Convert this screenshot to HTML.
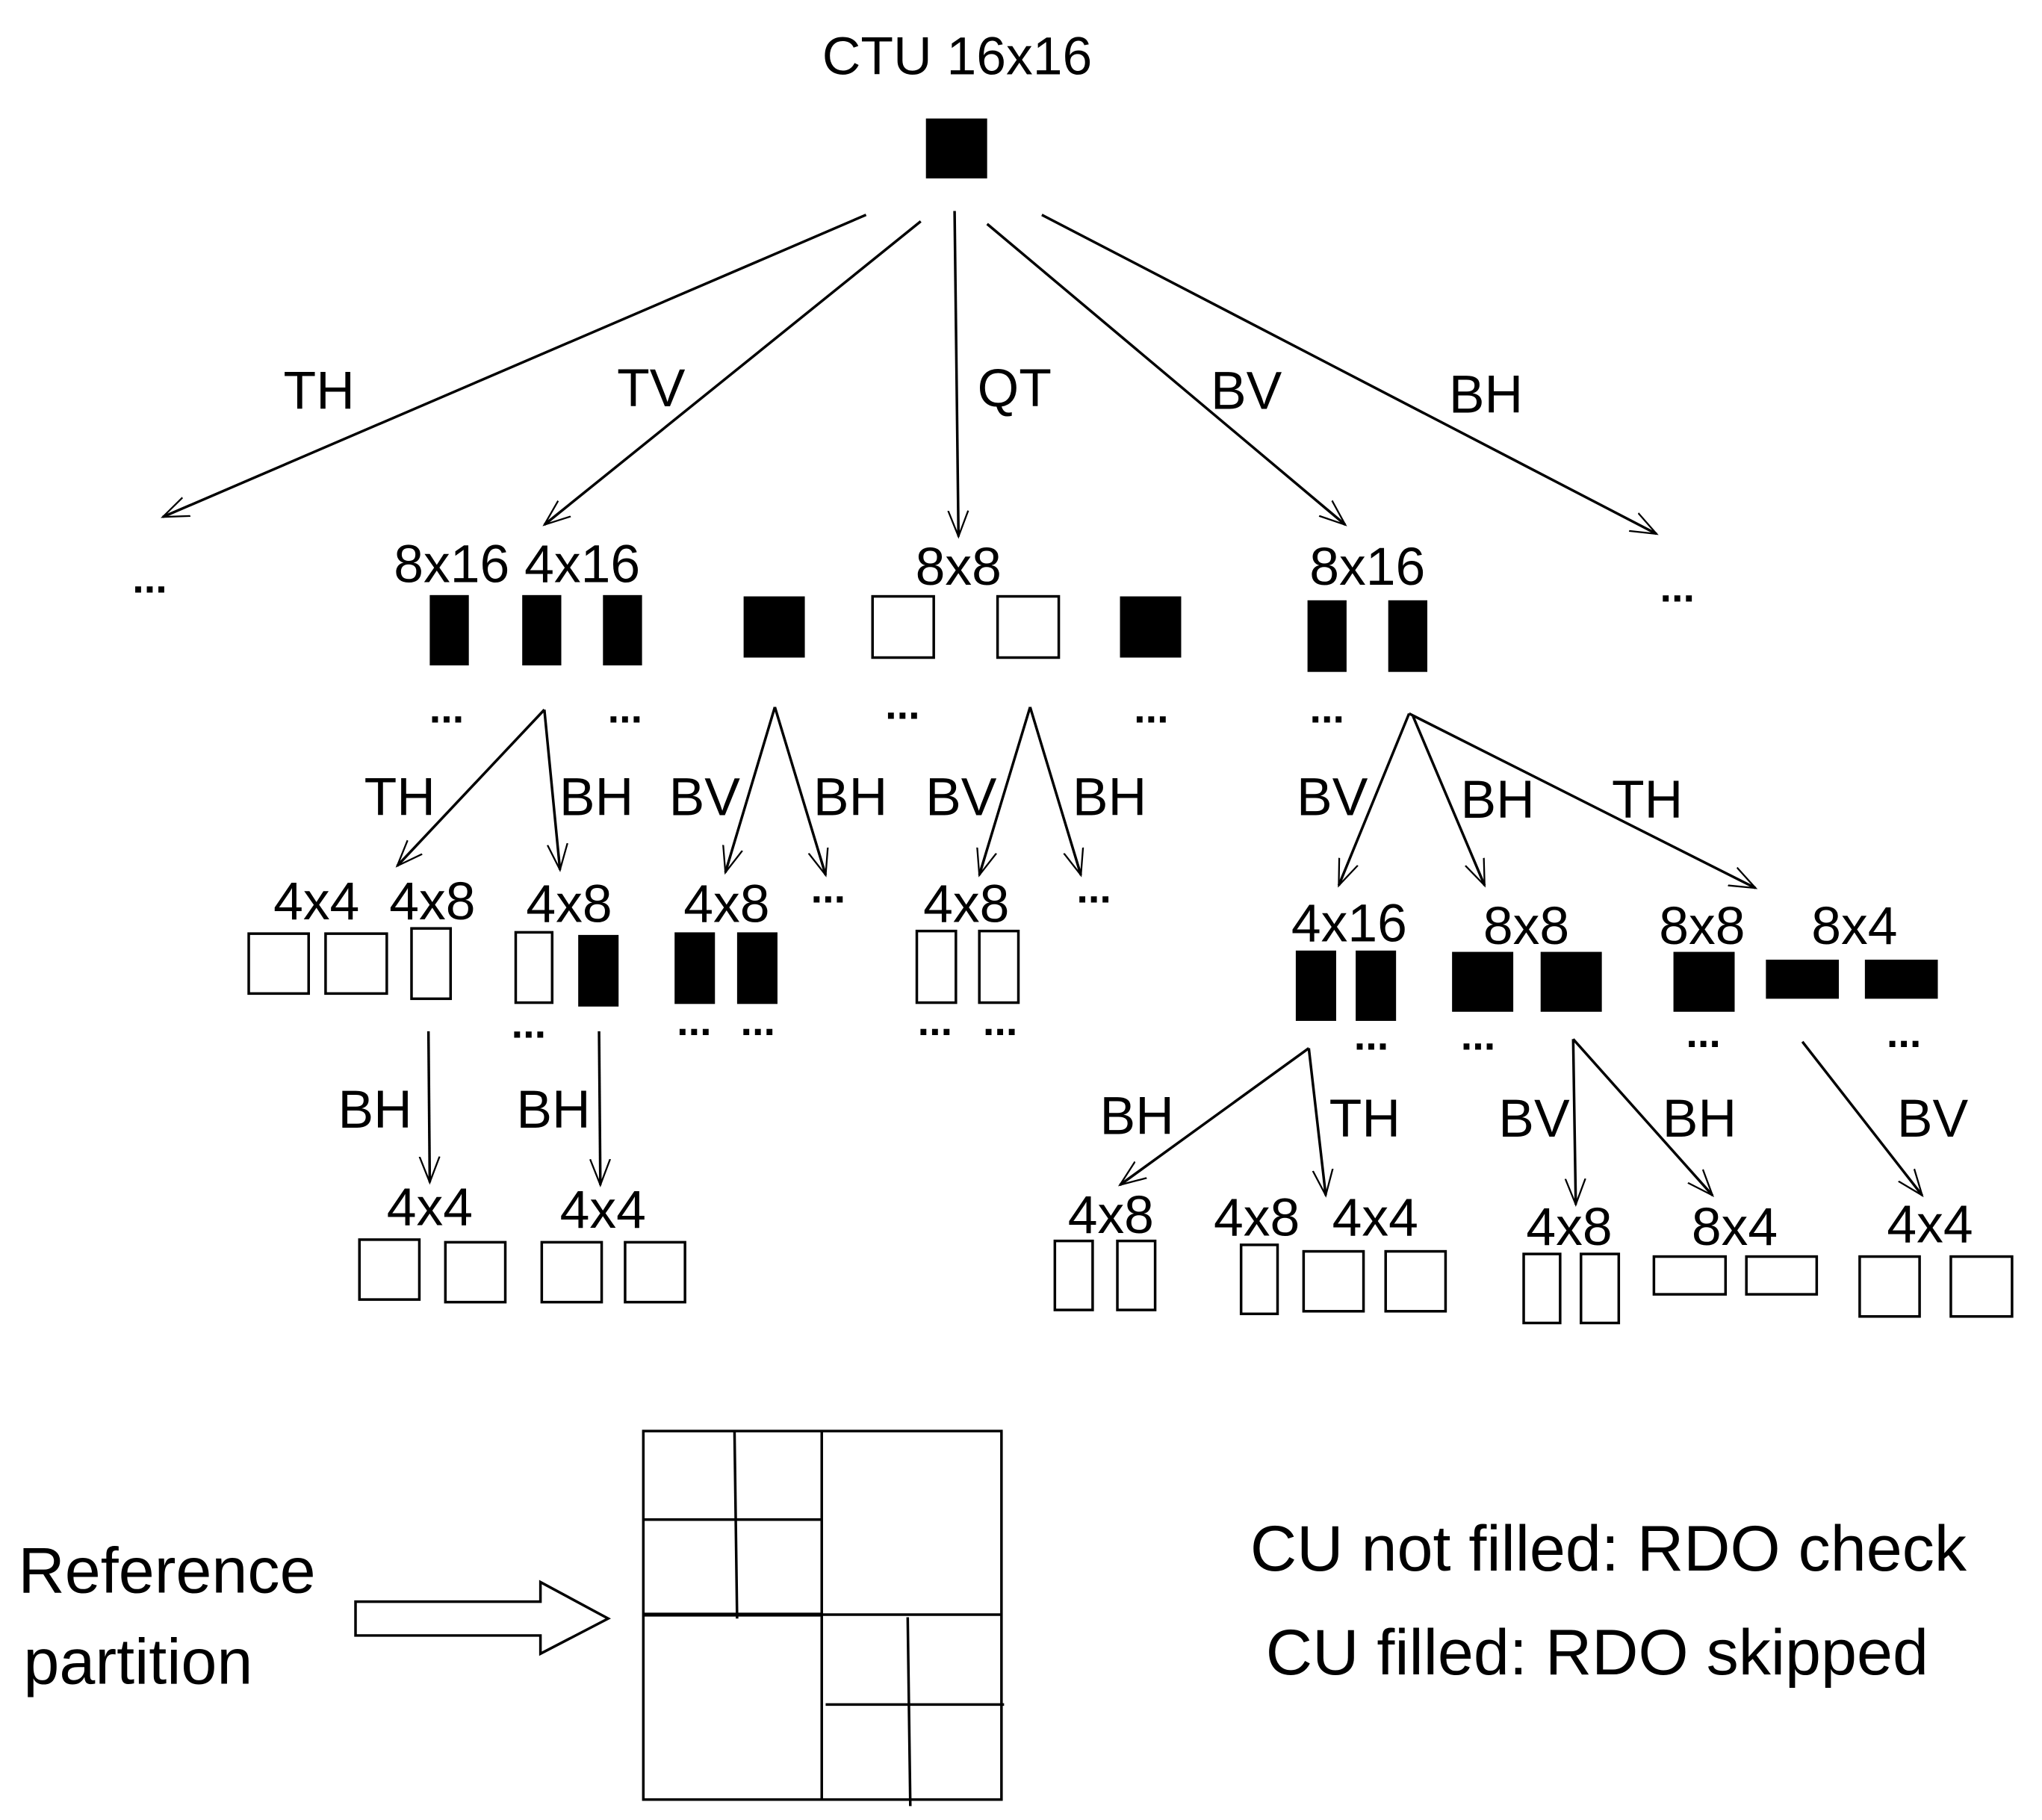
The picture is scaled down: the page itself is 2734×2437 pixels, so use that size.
<!DOCTYPE html>
<html><head><meta charset="utf-8"><style>
html,body{margin:0;padding:0;background:#fff;width:2734px;height:2437px;overflow:hidden}
svg{display:block}
text{font-family:"Liberation Sans",sans-serif;fill:#000}
</style></head><body>
<svg width="2734" height="2437" viewBox="0 0 1568 1397.7" preserveAspectRatio="none" xmlns="http://www.w3.org/2000/svg">
<defs>
<marker id="b" viewBox="0 0 20 20" refX="18" refY="10" markerWidth="22" markerHeight="22" markerUnits="userSpaceOnUse" orient="auto">
<polyline points="0,3 18,10 0,17" fill="none" stroke="#000" stroke-width="1.2"/>
</marker>
</defs>
<g stroke="#000" stroke-width="2" fill="none" marker-end="url(#b)">
<line x1="665" y1="165" x2="125" y2="397"/>
<line x1="707" y1="170" x2="418" y2="403"/>
<line x1="733" y1="162" x2="736" y2="412"/>
<line x1="758" y1="172" x2="1033" y2="403"/>
<line x1="800" y1="165" x2="1272" y2="410"/>
<line x1="418" y1="545" x2="305" y2="665"/>
<line x1="418" y1="545" x2="430" y2="668"/>
<line x1="595" y1="543" x2="557" y2="670"/>
<line x1="595" y1="543" x2="634" y2="672"/>
<line x1="791" y1="543" x2="752" y2="672"/>
<line x1="791" y1="543" x2="830" y2="672"/>
<line x1="1082" y1="548" x2="1028" y2="680"/>
<line x1="1085" y1="550" x2="1140" y2="680"/>
<line x1="1082" y1="548" x2="1348" y2="682"/>
<line x1="329" y1="792" x2="330" y2="908"/>
<line x1="460" y1="792" x2="461" y2="910"/>
<line x1="1005" y1="805" x2="860" y2="910"/>
<line x1="1005" y1="805" x2="1018" y2="918"/>
<line x1="1208" y1="798" x2="1210" y2="925"/>
<line x1="1208" y1="798" x2="1315" y2="918"/>
<line x1="1384" y1="800" x2="1476" y2="918"/>
</g>
<g font-size="41">
<text x="735" y="57" text-anchor="middle">CTU 16x16</text>
<text x="245" y="314" text-anchor="middle">TH</text>
<text x="500" y="312" text-anchor="middle">TV</text>
<text x="779" y="312" text-anchor="middle">QT</text>
<text x="957" y="314" text-anchor="middle">BV</text>
<text x="1141" y="317" text-anchor="middle">BH</text>
<text x="397" y="447" text-anchor="middle">8x16  4x16</text>
<text x="736" y="449" text-anchor="middle">8x8</text>
<text x="1050" y="449" text-anchor="middle">8x16</text>
<text x="307" y="626" text-anchor="middle">TH</text>
<text x="458" y="626" text-anchor="middle">BH</text>
<text x="541" y="626" text-anchor="middle">BV</text>
<text x="653" y="626" text-anchor="middle">BH</text>
<text x="738" y="626" text-anchor="middle">BV</text>
<text x="852" y="626" text-anchor="middle">BH</text>
<text x="1023" y="626" text-anchor="middle">BV</text>
<text x="1150" y="628" text-anchor="middle">BH</text>
<text x="1265" y="628" text-anchor="middle">TH</text>
<text x="243" y="706" text-anchor="middle">4x4</text>
<text x="332" y="706" text-anchor="middle">4x8</text>
<text x="437" y="708" text-anchor="middle">4x8</text>
<text x="558" y="708" text-anchor="middle">4x8</text>
<text x="742" y="708" text-anchor="middle">4x8</text>
<text x="1036" y="723" text-anchor="middle">4x16</text>
<text x="1172" y="725" text-anchor="middle">8x8</text>
<text x="1307" y="725" text-anchor="middle">8x8</text>
<text x="1424" y="725" text-anchor="middle">8x4</text>
<text x="288" y="866" text-anchor="middle">BH</text>
<text x="425" y="866" text-anchor="middle">BH</text>
<text x="873" y="871" text-anchor="middle">BH</text>
<text x="1048" y="873" text-anchor="middle">TH</text>
<text x="1178" y="873" text-anchor="middle">BV</text>
<text x="1305" y="873" text-anchor="middle">BH</text>
<text x="1484" y="873" text-anchor="middle">BV</text>
<text x="330" y="941" text-anchor="middle">4x4</text>
<text x="463" y="943" text-anchor="middle">4x4</text>
<text x="853" y="947" text-anchor="middle">4x8</text>
<text x="965" y="949" text-anchor="middle">4x8</text>
<text x="1056" y="949" text-anchor="middle">4x4</text>
<text x="1205" y="956" text-anchor="middle">4x8</text>
<text x="1332" y="956" text-anchor="middle">8x4</text>
<text x="1482" y="954" text-anchor="middle">4x4</text>
</g>
<g font-size="32" font-weight="bold" text-anchor="middle">
<text x="115" y="455">...</text>
<text x="1288" y="462">...</text>
<text x="343" y="555">...</text>
<text x="480" y="555">...</text>
<text x="693" y="552">...</text>
<text x="884" y="555">...</text>
<text x="1019" y="555">...</text>
<text x="636" y="693">...</text>
<text x="840" y="693">...</text>
<text x="406" y="797">...</text>
<text x="533" y="795">...</text>
<text x="582" y="795">...</text>
<text x="718" y="795">...</text>
<text x="768" y="795">...</text>
<text x="1053" y="806">...</text>
<text x="1135" y="806">...</text>
<text x="1308" y="804">...</text>
<text x="1462" y="804">...</text>
</g>
<g fill="#000">
<rect x="711" y="91" width="47" height="46"/>
<rect x="330" y="457" width="30" height="54"/>
<rect x="401" y="457" width="30" height="54"/>
<rect x="463" y="457" width="30" height="54"/>
<rect x="571" y="458" width="47" height="47"/>
<rect x="860" y="458" width="47" height="47"/>
<rect x="1004" y="461" width="30" height="55"/>
<rect x="1066" y="461" width="30" height="55"/>
<rect x="444" y="718" width="31" height="55"/>
<rect x="518" y="716" width="31" height="55"/>
<rect x="566" y="716" width="31" height="55"/>
<rect x="995" y="730" width="31" height="54"/>
<rect x="1041" y="730" width="31" height="54"/>
<rect x="1115" y="731" width="47" height="46"/>
<rect x="1183" y="731" width="47" height="46"/>
<rect x="1285" y="731" width="47" height="46"/>
<rect x="1356" y="737" width="56" height="30"/>
<rect x="1432" y="737" width="56" height="30"/>
</g>
<g fill="none" stroke="#000" stroke-width="2">
<rect x="670" y="458" width="47" height="47"/>
<rect x="766" y="458" width="47" height="47"/>
<rect x="191" y="717" width="46" height="46"/>
<rect x="250" y="717" width="47" height="46"/>
<rect x="316" y="713" width="30" height="54"/>
<rect x="396" y="716" width="28" height="54"/>
<rect x="704" y="715" width="30" height="55"/>
<rect x="752" y="715" width="30" height="55"/>
<rect x="276" y="952" width="46" height="46"/>
<rect x="342" y="954" width="46" height="46"/>
<rect x="416" y="954" width="46" height="46"/>
<rect x="480" y="954" width="46" height="46"/>
<rect x="810" y="953" width="29" height="53"/>
<rect x="858" y="953" width="29" height="53"/>
<rect x="953" y="956" width="28" height="53"/>
<rect x="1001" y="961" width="46" height="46"/>
<rect x="1064" y="961" width="46" height="46"/>
<rect x="1170" y="963" width="28" height="53"/>
<rect x="1214" y="963" width="29" height="53"/>
<rect x="1270" y="965" width="55" height="29"/>
<rect x="1341" y="965" width="54" height="29"/>
<rect x="1428" y="965" width="46" height="46"/>
<rect x="1498" y="965" width="47" height="46"/>
<rect x="494" y="1099" width="275" height="283"/>
<line x1="631" y1="1099" x2="631" y2="1382"/>
<line x1="494" y1="1240" x2="631" y2="1240" stroke-width="3"/>
<line x1="631" y1="1240" x2="769" y2="1240"/>
<line x1="564" y1="1099" x2="566" y2="1243"/>
<line x1="494" y1="1167" x2="631" y2="1167"/>
<line x1="697" y1="1242" x2="699" y2="1387"/>
<line x1="634" y1="1309" x2="771" y2="1309"/>
<polygon points="273,1230 415,1230 415,1215 467,1243 415,1270 415,1256 273,1256"/>
</g>
<g font-size="49.5">
<text x="14" y="1223">Reference</text>
<text x="18" y="1293">partition</text>
<text x="960" y="1206">CU not filled: RDO check</text>
<text x="972" y="1286">CU filled: RDO skipped</text>
</g>
</svg>
</body></html>
